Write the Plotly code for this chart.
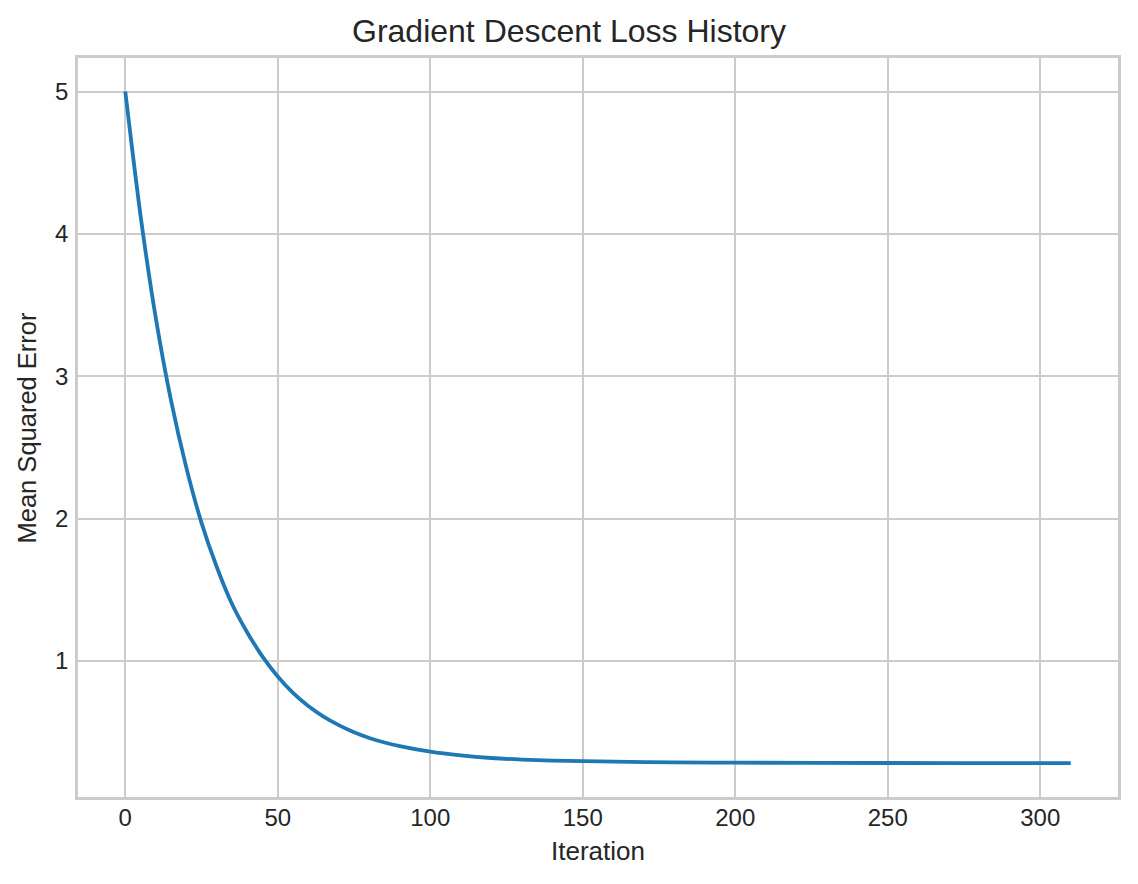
import plotly.graph_objects as go

# Values
iterations = [0, 5, 10, 15, 20, 25, 30, 35, 40, 45, 50, 55, 60, 65, 70, 75,
              80, 85, 90, 100, 110, 120, 130, 140, 150, 160, 180, 200,
              250, 300, 310]
mse = [5.00, 4.13, 3.41, 2.83, 2.36, 1.97, 1.66, 1.40, 1.20, 1.03, 0.89,
       0.775, 0.683, 0.609, 0.549, 0.499, 0.459, 0.427, 0.401, 0.362,
       0.336, 0.318, 0.307, 0.300, 0.296, 0.292, 0.287, 0.285,
       0.283, 0.282, 0.282]
x_ticks = [0, 50, 100, 150, 200, 250, 300]
y_ticks = [1, 2, 3, 4, 5]

FONT = "Liberation Sans, Arial, Helvetica, sans-serif"
TXT = "#262626"

fig = go.Figure()
fig.add_trace(go.Scatter(
    x=iterations, y=mse, mode="lines",
    line=dict(color="#1f77b4", width=3.8, shape="spline", smoothing=0.8),
    showlegend=False,
))

fig.update_layout(
    width=1138, height=884,
    margin=dict(l=78, r=20, t=58, b=87),
    paper_bgcolor="white", plot_bgcolor="white",
    font=dict(family=FONT, color=TXT, size=25),
    title=dict(text="Gradient Descent Loss History", x=0.5, xanchor="center",
               y=1 - 31 / 884, yanchor="middle", yref="container",
               font=dict(size=32, family=FONT, color=TXT)),
)

fig.update_xaxes(
    range=[-15.5, 325.5], tickvals=x_ticks, ticktext=[str(v) for v in x_ticks],
    showgrid=True, gridcolor="#cccccc", gridwidth=2,
    showline=True, linecolor="#cccccc", linewidth=2.5, mirror=True,
    zeroline=False, ticks="", ticklabelstandoff=-3,
    tickfont=dict(size=24, family=FONT, color=TXT),
)
fig.update_yaxes(
    range=[0.044, 5.236], tickvals=y_ticks, ticktext=[str(v) for v in y_ticks],
    showgrid=True, gridcolor="#cccccc", gridwidth=2,
    showline=True, linecolor="#cccccc", linewidth=2.5, mirror=True,
    zeroline=False, ticks="outside", ticklen=2, tickcolor="rgba(0,0,0,0)",
    tickfont=dict(size=24, family=FONT, color=TXT),
)

fig.add_annotation(text="Iteration", xref="paper", yref="paper", x=0.5, y=0,
                   xanchor="center", yanchor="middle", yshift=-(851 - 797),
                   showarrow=False, font=dict(size=26, family=FONT, color=TXT))
fig.add_annotation(text="Mean Squared Error", xref="paper", yref="paper", x=0, y=0.5,
                   xanchor="center", yanchor="middle", xshift=-(78 - 26), textangle=-90,
                   showarrow=False, font=dict(size=25.5, family=FONT, color=TXT))

fig.write_html("out.html", config={"displayModeBar": False},
               post_script="document.body.style.margin='0px';")
